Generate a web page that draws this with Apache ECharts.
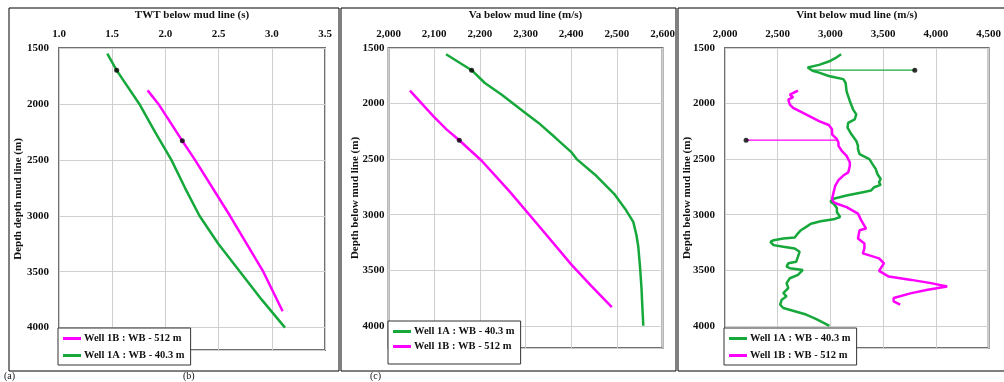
<!DOCTYPE html>
<html>
<head>
<meta charset="utf-8">
<script src="https://cdn.jsdelivr.net/npm/echarts@6/dist/echarts.min.js"></script>
<style>
html,body{margin:0;padding:0;background:#fff;}
#c{width:1004px;height:382px;}
</style>
</head>
<body>
<div id="c"></div>
<script>
// ---------- data ----------
const NAME_1A = 'Well 1A : WB - 40.3 m';
const NAME_1B = 'Well 1B : WB - 512 m';

// Panel (a/b): TWT (s) vs depth (m)
const twt1A = [[1.454,1551],[1.542,1700],[1.755,2000],[1.902,2250],[2.056,2500],[2.184,2750],[2.320,3000],[2.497,3250],[2.701,3500],[2.905,3750],[3.124,4000]];
const twt1B = [[1.833,1879],[1.934,2000],[2.159,2330],[2.278,2500],[2.607,3000],[2.920,3500],[3.102,3853]];
const twtDots = [[1.542,1700],[2.159,2330]];

// Panel (c): Va (m/s) vs depth (m)
const va1A = [[2126,1556],[2182,1700],[2211,1815],[2248,1920],[2299,2083],[2328,2172],[2365,2306],[2401,2440],[2412,2500],[2455,2650],[2494,2812],[2518,2946],[2536,3065],[2543,3185],[2547,3289],[2544,3300],[2551,3482],[2554,3661],[2556,3839],[2558,4000]];
const va1B = [[2047,1884],[2098,2113],[2127,2232],[2155,2330],[2204,2515],[2265,2790],[2328,3095],[2401,3452],[2445,3646],[2489,3833]];
const vaDots = [[2182,1700],[2155,2330]];

// Panel 3: Vint (m/s) vs depth (m)
const vint1A = [[3101,1557],[3046,1592],[2984,1622],[2892,1652],[2784,1676],[2769,1690],[2830,1705],[2892,1722],[2984,1752],[3061,1768],[3122,1780],[3144,1815],[3153,1890],[3184,1979],[3215,2054],[3245,2098],[3230,2143],[3168,2173],[3162,2217],[3199,2277],[3245,2336],[3261,2380],[3261,2411],[3276,2456],[3369,2500],[3399,2545],[3430,2590],[3445,2634],[3476,2679],[3461,2709],[3476,2732],[3415,2753],[3384,2783],[3307,2798],[3153,2828],[3030,2857],[3000,2881],[3030,2902],[3061,2941],[3061,2976],[3092,3021],[3030,3042],[2907,3060],[2815,3081],[2770,3110],[2720,3140],[2690,3170],[2661,3206],[2553,3215],[2461,3230],[2430,3244],[2461,3274],[2553,3289],[2661,3304],[2707,3334],[2692,3378],[2676,3423],[2600,3438],[2584,3468],[2615,3482],[2738,3497],[2753,3512],[2692,3542],[2615,3572],[2584,3616],[2600,3661],[2553,3706],[2584,3735],[2538,3765],[2523,3810],[2553,3840],[2661,3869],[2769,3899],[2861,3938],[2922,3968],[2990,4000]];
const vint1B = [[2692,1884],[2646,1905],[2615,1920],[2646,1943],[2600,1964],[2615,2009],[2646,2039],[2707,2068],[2800,2113],[2892,2158],[2984,2193],[3015,2232],[3015,2277],[3061,2321],[3076,2351],[3076,2381],[3107,2425],[3153,2471],[3184,2530],[3184,2560],[3169,2619],[3122,2648],[3076,2690],[3046,2738],[3030,2798],[3015,2860],[3030,2886],[3061,2902],[3153,2932],[3261,2991],[3292,3051],[3338,3125],[3276,3140],[3261,3214],[3322,3259],[3322,3304],[3307,3348],[3461,3393],[3507,3438],[3461,3506],[3553,3557],[3768,3587],[3953,3616],[4107,3646],[3922,3676],[3768,3706],[3599,3750],[3599,3780],[3661,3810]];
const vintLink1A = [[3800,1700],[2830,1700]];
const vintLink1B = [[2200,2330],[3060,2330]];
const vintDots = [[3800,1700],[2200,2330]];

// axes
const depthRange = [1500, 4200, 500];
const twtRange = [1.0, 3.5, 0.5];
const vaRange = [2000, 2600, 100];
const vintRange = [2000, 4500, 500];
const titles = ['TWT below mud line (s)', 'Va below mud line (m/s)', 'Vint below mud line (m/s)'];
const yNames = ['Depth depth mud line (m)', 'Depth below mud line (m)', 'Depth below mud line (m)'];
const panelLetters = ['(a)', '(b)', '(c)'];

// ---------- styling ----------
const FONT = '"Liberation Serif", "Times New Roman", serif';
const GREEN = '#17a83c';
const MAGENTA = '#ff00ff';
const comma = v => String(v).replace(/\B(?=(\d{3})+(?!\d))/g, ',');
const lbl = {fontFamily: FONT, fontSize: 11, fontWeight: 'bold', color: '#111'};

const grids = [
  {left: 59, top: 48, width: 266, height: 302},
  {left: 388.5, top: 48, width: 274, height: 300},
  {left: 725, top: 48, width: 271, height: 300}
];
const xRanges = [twtRange, vaRange, vintRange];
const xFmt = [v => v.toFixed(1), comma, comma];
const yGaps = [35, 28, 32];
const yMargins = [10, 4, 10];

const chart = echarts.init(document.getElementById('c'), null, {renderer: 'canvas'});

const option = {
  animation: false,
  backgroundColor: '#fff',
  grid: grids.map(g => Object.assign({show: true, borderColor: '#707070', borderWidth: 2, backgroundColor: 'transparent', containLabel: false}, g)),
  xAxis: xRanges.map((r, i) => ({
    type: 'value', gridIndex: i, position: 'top', min: r[0], max: r[1], interval: r[2],
    name: titles[i], nameLocation: 'middle', nameGap: 27, nameMoveOverlap: false,
    nameTextStyle: Object.assign({}, lbl),
    axisLine: {show: false}, axisTick: {show: false},
    axisLabel: Object.assign({margin: 8, formatter: xFmt[i]}, lbl),
    splitLine: {show: true, lineStyle: {color: '#cfcfcf', width: 1}}
  })),
  yAxis: [0, 1, 2].map(i => ({
    type: 'value', gridIndex: i, inverse: true, min: depthRange[0], max: depthRange[1], interval: depthRange[2],
    name: yNames[i], nameLocation: 'middle', nameGap: yGaps[i], nameRotate: 90, nameMoveOverlap: false,
    nameTextStyle: Object.assign({}, lbl),
    axisLine: {show: false}, axisTick: {show: false},
    axisLabel: Object.assign({margin: yMargins[i], showMaxLabel: false, formatter: v => String(v)}, lbl),
    splitLine: {show: true, lineStyle: {color: '#cfcfcf', width: 1}}
  })),
  legend: [
    {left: 58, top: 328, data: [NAME_1B, NAME_1A], pad: [5, 6, 4, 5], gap: 6},
    {left: 388, top: 321, data: [NAME_1A, NAME_1B], pad: [5, 6, 12, 5], gap: 4},
    {left: 724, top: 328, data: [NAME_1A, NAME_1B], pad: [5, 6, 4, 5], gap: 6}
  ].map(l => ({
    orient: 'vertical', left: l.left, top: l.top, selectedMode: false,
    data: l.data.map(n => ({name: n, icon: 'rect'})),
    itemWidth: 18, itemHeight: 3, itemGap: l.gap, padding: l.pad,
    backgroundColor: '#fff', borderColor: '#333', borderWidth: 1,
    textStyle: Object.assign({}, lbl, {fontSize: 10.5, padding: [0, 0, 0, -2]})
  })),
  graphic: [
    {type: 'rect', shape: {x: 9, y: 8, width: 330, height: 363}, style: {fill: 'none', stroke: '#000', lineWidth: 1}, z: 100},
    {type: 'rect', shape: {x: 341, y: 8, width: 335, height: 363}, style: {fill: 'none', stroke: '#000', lineWidth: 1}, z: 100},
    {type: 'rect', shape: {x: 678, y: 8, width: 340, height: 363}, style: {fill: 'none', stroke: '#000', lineWidth: 1}, z: 100},
    {type: 'text', left: 4, top: 371, style: {text: panelLetters[0], font: '10px ' + FONT, fill: '#111'}},
    {type: 'text', left: 183, top: 371, style: {text: panelLetters[1], font: '10px ' + FONT, fill: '#111'}},
    {type: 'text', left: 370, top: 371, style: {text: panelLetters[2], font: '10px ' + FONT, fill: '#111'}}
  ],
  series: []
};

function lineSeries(name, data, color, idx, width) {
  return {
    type: 'line', name: name, data: data, xAxisIndex: idx, yAxisIndex: idx,
    showSymbol: false, symbol: 'none', smooth: false,
    lineStyle: {color: color, width: width || 2.5}, itemStyle: {color: color}, z: 3
  };
}
function dots(data, idx) {
  return {
    type: 'scatter', name: 'markers' + idx, data: data, xAxisIndex: idx, yAxisIndex: idx,
    symbolSize: 5, itemStyle: {color: '#000'}, z: 5
  };
}

option.series.push(lineSeries(NAME_1A, twt1A, GREEN, 0));
option.series.push(lineSeries(NAME_1B, twt1B, MAGENTA, 0));
option.series.push(dots(twtDots, 0));
option.series.push(lineSeries(NAME_1A, va1A, GREEN, 1));
option.series.push(lineSeries(NAME_1B, va1B, MAGENTA, 1));
option.series.push(dots(vaDots, 1));
option.series.push(lineSeries(NAME_1A, vint1A, GREEN, 2));
option.series.push(lineSeries(NAME_1B, vint1B, MAGENTA, 2));
option.series.push(lineSeries('link1A', vintLink1A, GREEN, 2, 1.2));
option.series.push(lineSeries('link1B', vintLink1B, MAGENTA, 2, 1.2));
option.series.push(dots(vintDots, 2));

chart.setOption(option);
</script>
</body>
</html>
